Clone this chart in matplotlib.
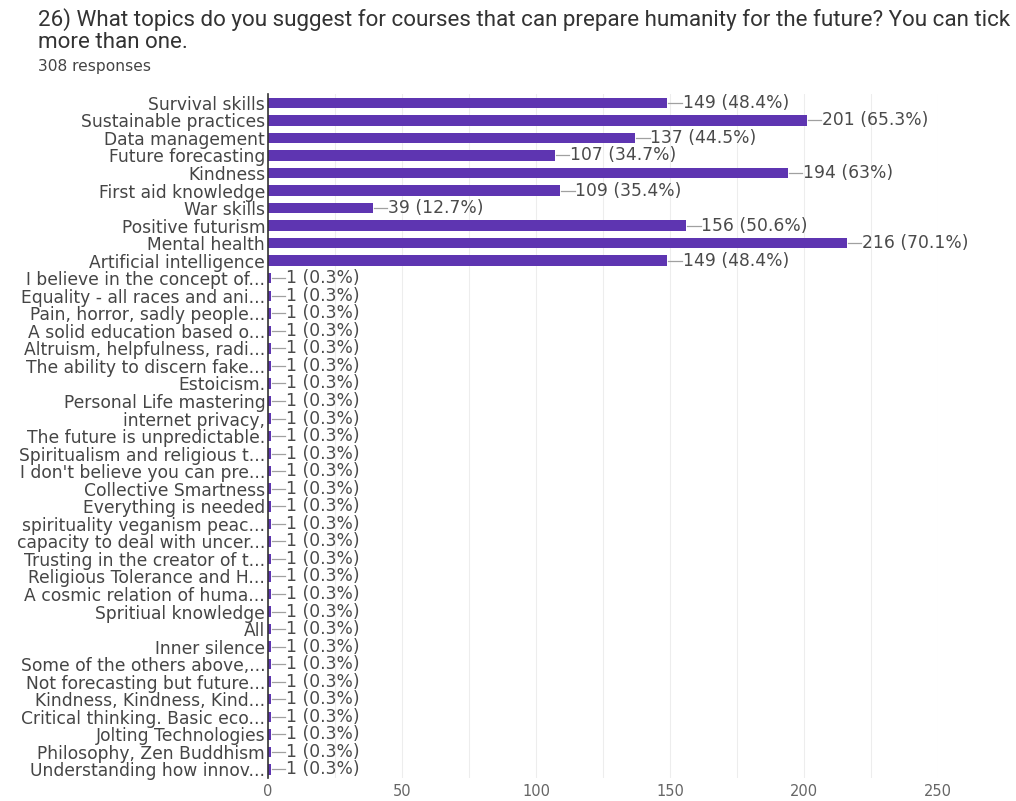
import matplotlib
matplotlib.use("Agg")
import matplotlib.pyplot as plt
from matplotlib.ticker import MultipleLocator

# answer options, in the order the form lists them
topics = [
    "Survival skills",
    "Sustainable practices",
    "Data management",
    "Future forecasting",
    "Kindness",
    "First aid knowledge",
    "War skills",
    "Positive futurism",
    "Mental health",
    "Artificial intelligence",
    "I believe in the concept of...",
    "Equality - all races and ani...",
    "Pain, horror, sadly people...",
    "A solid education based o...",
    "Altruism, helpfulness, radi...",
    "The ability to discern fake...",
    "Estoicism.",
    "Personal Life mastering",
    "internet privacy,",
    "The future is unpredictable.",
    "Spiritualism and religious t...",
    "I don't believe you can pre...",
    "Collective Smartness",
    "Everything is needed",
    "spirituality veganism peac...",
    "capacity to deal with uncer...",
    "Trusting in the creator of t...",
    "Religious Tolerance and H...",
    "A cosmic relation of huma...",
    "Spritiual knowledge",
    "All",
    "Inner silence",
    "Some of the others above,...",
    "Not forecasting but future...",
    "Kindness, Kindness, Kind...",
    "Critical thinking. Basic eco...",
    "Jolting Technologies",
    "Philosophy, Zen Buddhism",
    "Understanding how innov...",
]
counts = [149, 201, 137, 107, 194, 109, 39, 156, 216, 149] + [1] * 29
percents = ["48.4%", "65.3%", "44.5%", "34.7%", "63%", "35.4%", "12.7%",
            "50.6%", "70.1%", "48.4%"] + ["0.3%"] * 29
x_ticks = [0, 50, 100, 150, 200, 250]

title_1 = ("26) What topics do you suggest for courses that can prepare "
           "humanity for the future? You can tick")
title_2 = "more than one."
subtitle = "308 responses"

plt.rcParams["font.family"] = ["DejaVu Sans"]

fig = plt.figure(figsize=(10.16, 8.01), dpi=100)
ax = fig.add_axes([0.2638, 0.0285, 0.6594, 0.8541])

pos = list(range(len(topics)))
ax.barh(pos, counts, height=0.6, color="#5e35b1", zorder=3)

# value labels with a short leader line
for i, (c, p) in enumerate(zip(counts, percents)):
    ax.plot([c + 0.4, c + 5.4], [i, i], color="#a0a0a0", lw=0.9, zorder=3)
    ax.text(c + 5.7, i, f"{c} ({p})", va="center", ha="left",
            fontsize=12.3, color="#4a4a4a")

ax.set_ylim(len(topics) - 0.5, -0.5)
ax.set_xlim(0, 250)
ax.set_yticks(pos)
ax.set_yticklabels(topics, fontsize=12.3, color="#454545")
ax.set_xticks(x_ticks)
ax.set_xticklabels([str(t) for t in x_ticks], fontsize=10.5, color="#666666")
ax.xaxis.set_minor_locator(MultipleLocator(25))
ax.grid(axis="x", which="both", color="#ededed", lw=0.8, zorder=0)
ax.tick_params(axis="both", which="both", length=0)
ax.tick_params(axis="y", pad=2)
ax.tick_params(axis="x", pad=4)

for side in ["top", "right", "bottom"]:
    ax.spines[side].set_visible(False)
ax.spines["left"].set_color("#333333")
ax.spines["left"].set_linewidth(1.2)
ax.spines["left"].set_zorder(4)

fig.text(0.037, 1 - 20 / 801, title_1, ha="left", va="center", fontsize=16.1,
         family=["Roboto", "DejaVu Sans"], color="#333333")
fig.text(0.037, 1 - 43 / 801, title_2, ha="left", va="center", fontsize=16.1,
         family=["Roboto", "DejaVu Sans"], color="#333333")
fig.text(0.037, 1 - 67 / 801, subtitle, ha="left", va="center", fontsize=11.2,
         color="#444444")

fig.savefig("out.png", dpi=100, facecolor="white")
